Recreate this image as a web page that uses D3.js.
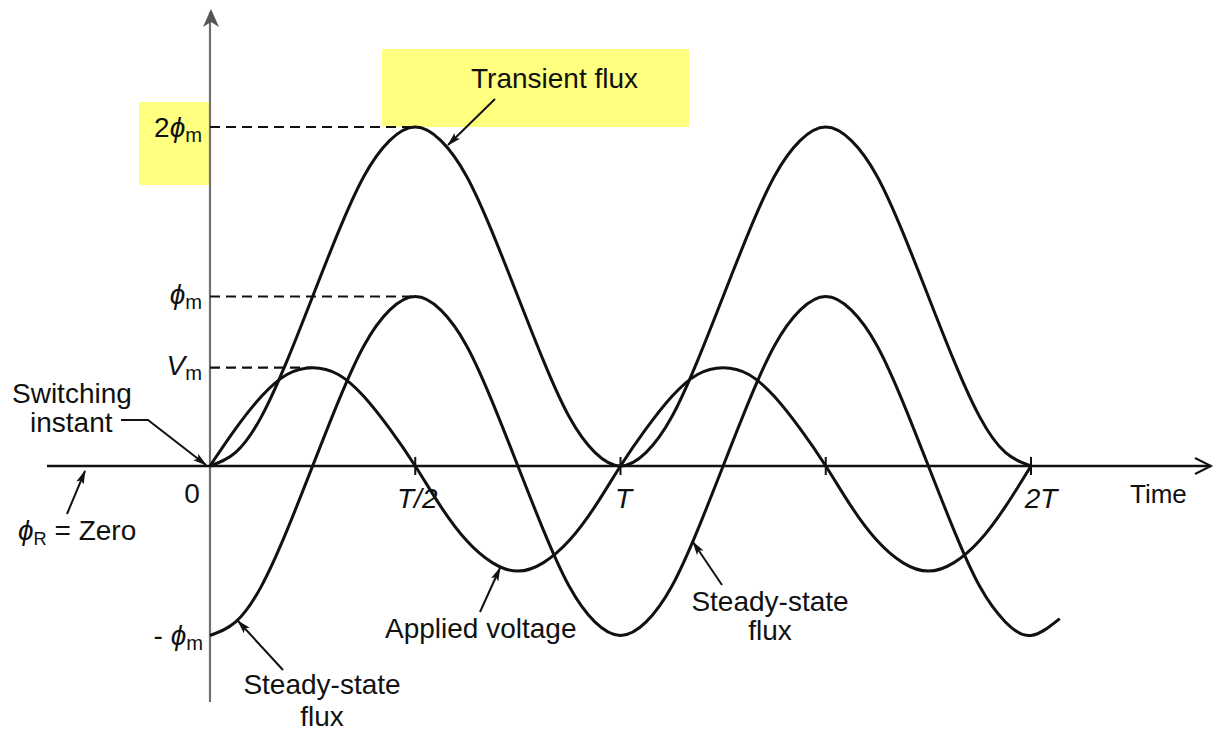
<!DOCTYPE html>
<html><head><meta charset="utf-8">
<script src="https://cdn.jsdelivr.net/npm/d3@7"></script>
<style>
html,body{margin:0;padding:0;background:#fff;}
svg text{font-family:"Liberation Sans",Arial,sans-serif;fill:#111;}
</style></head>
<body><svg id="c" width="1217" height="735"></svg>
<script>
// time in periods T
const timePoints = [0,0.0625,0.125,0.1875,0.25,0.3125,0.375,0.4375,0.5,0.5625,0.625,0.6875,0.75,0.8125,0.875,0.9375,1,
  1.0625,1.125,1.1875,1.25,1.3125,1.375,1.4375,1.5,1.5625,1.625,1.6875,1.75,1.8125,1.875,1.9375,2,2.07];
// values in units of phi_m
const transientFlux = [0,0.08,0.29,0.62,1,1.38,1.71,1.92,2,1.92,1.71,1.38,1,0.62,0.29,0.08,0,
  0.08,0.29,0.62,1,1.38,1.71,1.92,2,1.92,1.71,1.38,1,0.62,0.29,0.08,0];
const steadyFlux = [-1,-0.92,-0.71,-0.38,0,0.38,0.71,0.92,1,0.92,0.71,0.38,0,-0.38,-0.71,-0.92,-1,
  -0.92,-0.71,-0.38,0,0.38,0.71,0.92,1,0.92,0.71,0.38,0,-0.38,-0.71,-0.92,-1,-0.9];
const appliedVoltage = [0,0.22,0.41,0.54,0.58,0.54,0.41,0.22,0,-0.24,-0.44,-0.57,-0.62,-0.57,-0.44,-0.24,0,
  0.22,0.41,0.54,0.58,0.54,0.41,0.22,0,-0.24,-0.44,-0.57,-0.62,-0.57,-0.44,-0.24,0];
const xTicks = [0.5,1,1.5,2];
const xTickLabels = ["T/2","T","","2T"];
const levels = [2,1,0.58];   // 2φm, φm, Vm dashed guides
const levelPeakT = [0.5,0.5,0.25];

const svg = d3.select("#c");
const x = d3.scaleLinear().domain([0,2]).range([210,1031]);
const y = d3.scaleLinear().domain([-1,2]).range([635.5,127]);
const F = 28;

// yellow highlights
svg.append("rect").attr("x",139).attr("y",102).attr("width",70).attr("height",83).attr("fill","#ffff80");
svg.append("rect").attr("x",382).attr("y",49).attr("width",307).attr("height",78).attr("fill","#ffff80");

const defs = svg.append("defs");
defs.append("marker").attr("id","ah").attr("viewBox","0 0 14 10").attr("refX",13).attr("refY",5)
  .attr("markerWidth",14).attr("markerHeight",10).attr("markerUnits","userSpaceOnUse").attr("orient","auto")
  .append("path").attr("d","M0,1 L14,5 L0,9 L3,5 Z").attr("fill","#111");

// axes
svg.append("line").attr("x1",210).attr("x2",210).attr("y1",702).attr("y2",12).attr("stroke","#707070").attr("stroke-width",2.2);
svg.append("path").attr("d","M203,27 L211,9 L219,27 L211,22 Z").attr("fill","#555");
svg.append("line").attr("x1",47).attr("x2",1211).attr("y1",y(0)).attr("y2",y(0)).attr("stroke","#111").attr("stroke-width",2.5);
svg.append("path").attr("d",`M1195,${y(0)-8} L1211,${y(0)} L1195,${y(0)+8}`).attr("fill","none").attr("stroke","#111").attr("stroke-width",2);
svg.selectAll(".tk").data(xTicks).join("line").attr("x1",d=>x(d)).attr("x2",d=>x(d))
  .attr("y1",y(0)-9).attr("y2",y(0)+9).attr("stroke","#111").attr("stroke-width",2);

// dashed guides
levels.forEach((v,i)=>{
  svg.append("line").attr("x1",x(0)).attr("x2",x(levelPeakT[i])).attr("y1",y(v)).attr("y2",y(v))
    .attr("stroke","#111").attr("stroke-width",2.2).attr("stroke-dasharray","10,6");
});

// curves
const line = d3.line().x(d=>x(d[0])).y(d=>y(d[1])).curve(d3.curveNatural);
[transientFlux, steadyFlux, appliedVoltage].forEach(arr=>{
  svg.append("path").attr("d",line(arr.map((v,i)=>[timePoints[i],v])))
    .attr("fill","none").attr("stroke","#111").attr("stroke-width",3);
});

// x tick labels
svg.selectAll(".tl").data(xTicks).join("text").attr("x",(d,i)=>x(d)+(i==3?10:(i==1?3:2))).attr("y",508)
  .attr("text-anchor","middle").attr("font-size",F).attr("font-style","italic").text((d,i)=>xTickLabels[i]);
svg.append("text").attr("x",192).attr("y",503).attr("text-anchor","middle").attr("font-size",F).text("0");
svg.append("text").attr("x",1130).attr("y",503).attr("font-size",F-2).text("Time");

// y labels
function phiLabel(xp, yp, prefix, letter){
  const t = svg.append("text").attr("x",xp).attr("y",yp).attr("font-size",F).attr("text-anchor","end");
  if(prefix) t.append("tspan").text(prefix);
  t.append("tspan").attr("font-style","italic").text(letter);
  t.append("tspan").attr("font-size",F*0.72).attr("dy",5).text("m");
}
phiLabel(202,137,"2","ϕ");
phiLabel(202,304,"","ϕ");
phiLabel(202,375,"","V");
phiLabel(203,645,"- ","ϕ");

// annotations
function label(lines, xp, yp, lh){
  const t = svg.append("text").attr("font-size",F).attr("text-anchor","middle");
  lines.forEach((s,i)=>t.append("tspan").attr("x",xp).attr("y",yp+i*lh).text(s));
}
function arrow(pts){
  svg.append("path").attr("d",d3.line()(pts)).attr("fill","none").attr("stroke","#111")
    .attr("stroke-width",2).attr("marker-end","url(#ah)");
}
svg.append("text").attr("x",471).attr("y",88).attr("font-size",F).text("Transient flux");
arrow([[495,99],[448,145]]);

svg.append("text").attr("x",12).attr("y",403).attr("font-size",F).text("Switching");
svg.append("text").attr("x",30).attr("y",432).attr("font-size",F).text("instant");
arrow([[121,420],[148,420],[206,465]]);

const pr = svg.append("text").attr("x",18).attr("y",540).attr("font-size",F);
pr.append("tspan").attr("font-style","italic").text("ϕ");
pr.append("tspan").attr("font-size",F*0.65).attr("dy",5).text("R");
pr.append("tspan").attr("dy",-5).text(" = Zero");
arrow([[67,514],[85,471]]);

svg.append("text").attr("x",385).attr("y",638).attr("font-size",F).text("Applied  voltage");
arrow([[480,612],[500,568]]);

label(["Steady-state","flux"],322,694,32);
arrow([[283,670],[238,621]]);

label(["Steady-state","flux"],770,611,29);
arrow([[722,585],[693,542]]);
</script></body></html>
